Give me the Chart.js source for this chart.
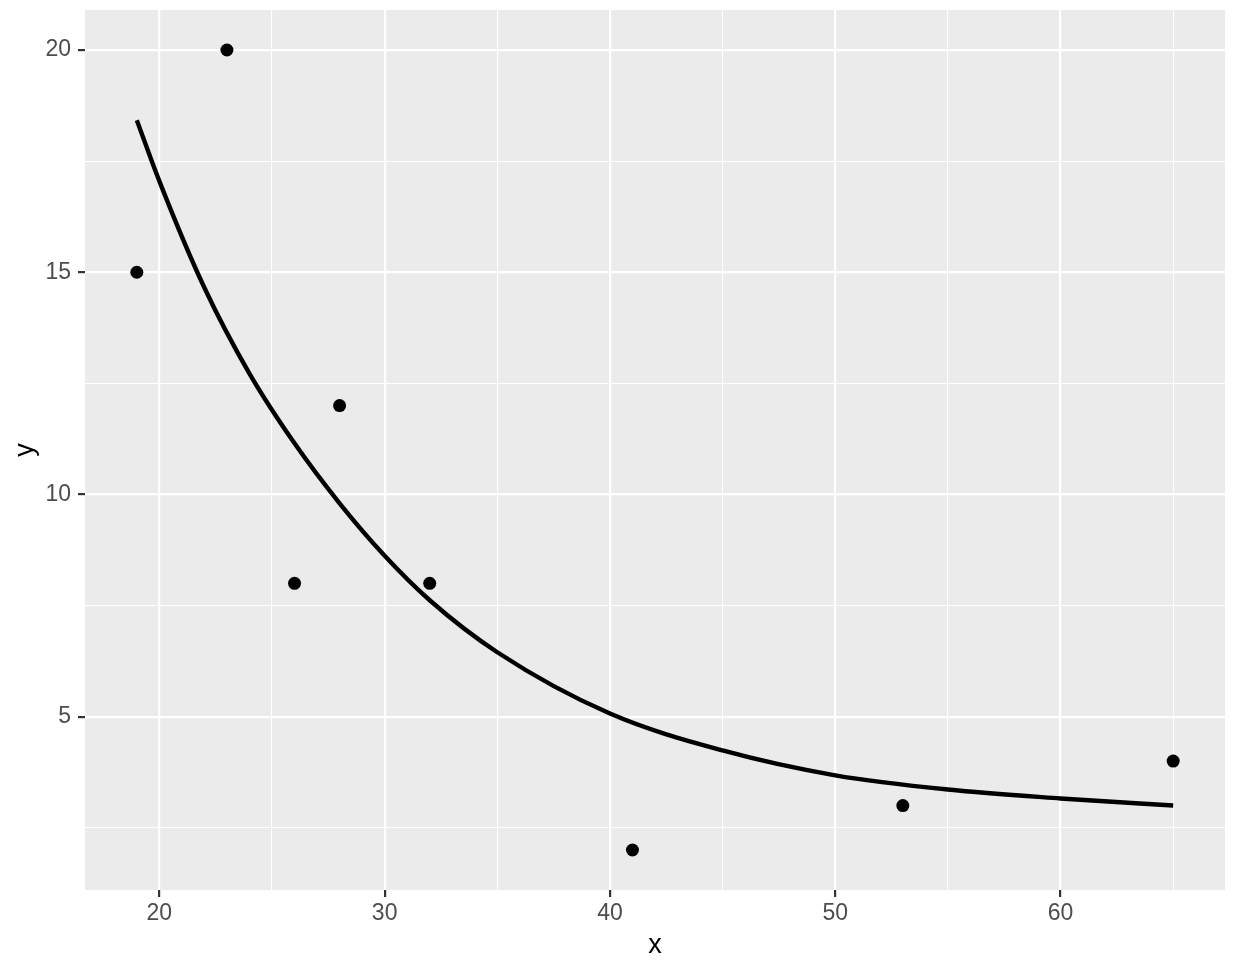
<!DOCTYPE html>
<html>
<head>
<meta charset="utf-8">
<script src="https://cdn.jsdelivr.net/npm/chart.js@4/dist/chart.umd.min.js"></script>
<style>
  html, body { margin: 0; padding: 0; background: #ffffff; }
  #wrap { width: 1236px; height: 966px; }
</style>
</head>
<body>
<div id="wrap"><canvas id="c" width="1236" height="966"></canvas></div>
<script>
// Observed points
const pointX = [19, 23, 26, 28, 32, 41, 53, 65];
const pointY = [15, 20, 8, 12, 8, 2, 3, 4];

// Fitted curve, values
const curveX = [19, 20, 22, 24, 26, 28, 30, 32, 35, 40, 45, 50, 55, 60, 65];
const curveY = [18.42, 17.05, 14.65, 12.72, 11.15, 9.8, 8.62, 7.62, 6.45, 5.07, 4.24, 3.68, 3.36, 3.16, 3.0];

// Axis ticks
const xTicks = [20, 25, 30, 35, 40, 45, 50, 55, 60, 65];
const xMajor = [20, 30, 40, 50, 60];
const yTicks = [2.5, 5, 7.5, 10, 12.5, 15, 17.5, 20];
const yMajor = [5, 10, 15, 20];

const FONT = "'Liberation Sans', Arial, Helvetica, sans-serif";

const panelBg = {
  id: 'panelBg',
  beforeDraw(chart) {
    const {ctx, chartArea: a} = chart;
    ctx.save();
    ctx.fillStyle = '#EBEBEB';
    ctx.fillRect(a.left, a.top, a.right - a.left, a.bottom - a.top);
    ctx.restore();
  }
};

function gridOpts(majors) {
  return {
    color: '#FFFFFF',
    lineWidth: (ctx) => (ctx.tick && majors.includes(ctx.tick.value)) ? 2.2 : 1.1,
    drawTicks: true,
    tickLength: 7,
    tickWidth: 2.2,
    tickColor: (ctx) => (ctx.tick && majors.includes(ctx.tick.value)) ? '#333333' : 'rgba(0,0,0,0)',
    drawOnChartArea: true
  };
}

new Chart(document.getElementById('c'), {
  type: 'scatter',
  data: {
    datasets: [
      {
        type: 'line',
        data: curveX.map((x, i) => ({x: x, y: curveY[i]})),
        borderColor: '#000000',
        borderWidth: 4.4,
        pointRadius: 0,
        fill: false,
        cubicInterpolationMode: 'monotone',
        order: 0
      },
      {
        type: 'scatter',
        data: pointX.map((x, i) => ({x: x, y: pointY[i]})),
        backgroundColor: '#000000',
        borderColor: '#000000',
        pointRadius: 6.5,
        pointBorderWidth: 0,
        order: 1
      }
    ]
  },
  options: {
    responsive: false,
    animation: false,
    devicePixelRatio: 1,
    layout: { padding: { top: 10, right: 11, left: 0, bottom: 0 } },
    plugins: { legend: { display: false }, tooltip: { enabled: false } },
    scales: {
      x: {
        type: 'linear',
        min: 16.7,
        max: 67.3,
        border: { display: false },
        grid: gridOpts(xMajor),
        afterBuildTicks(scale) { scale.ticks = xTicks.map(v => ({value: v})); },
        afterFit(scale) { scale.height = 76; scale.paddingLeft = 0; scale.paddingRight = 0; },
        ticks: {
          autoSkip: false,
          maxRotation: 0,
          padding: 3,
          color: '#4D4D4D',
          font: { family: FONT, size: 23 },
          callback: (v) => xMajor.includes(v) ? String(v) : ''
        },
        title: {
          display: true,
          text: 'x',
          color: '#000000',
          font: { family: FONT, size: 27 },
          padding: { top: 0, bottom: 4 }
        }
      },
      y: {
        type: 'linear',
        min: 1.1,
        max: 20.9,
        border: { display: false },
        grid: gridOpts(yMajor),
        afterBuildTicks(scale) { scale.ticks = yTicks.map(v => ({value: v})); },
        afterFit(scale) { scale.width = 85; scale.paddingTop = 0; scale.paddingBottom = 0; },
        ticks: {
          autoSkip: false,
          padding: 7,
          color: '#4D4D4D',
          font: { family: FONT, size: 23 },
          callback: (v) => yMajor.includes(v) ? String(v) : ''
        },
        title: {
          display: true,
          text: 'y',
          color: '#000000',
          font: { family: FONT, size: 27 },
          padding: { top: 9, bottom: 0 }
        }
      }
    }
  },
  plugins: [panelBg]
});
</script>
</body>
</html>
